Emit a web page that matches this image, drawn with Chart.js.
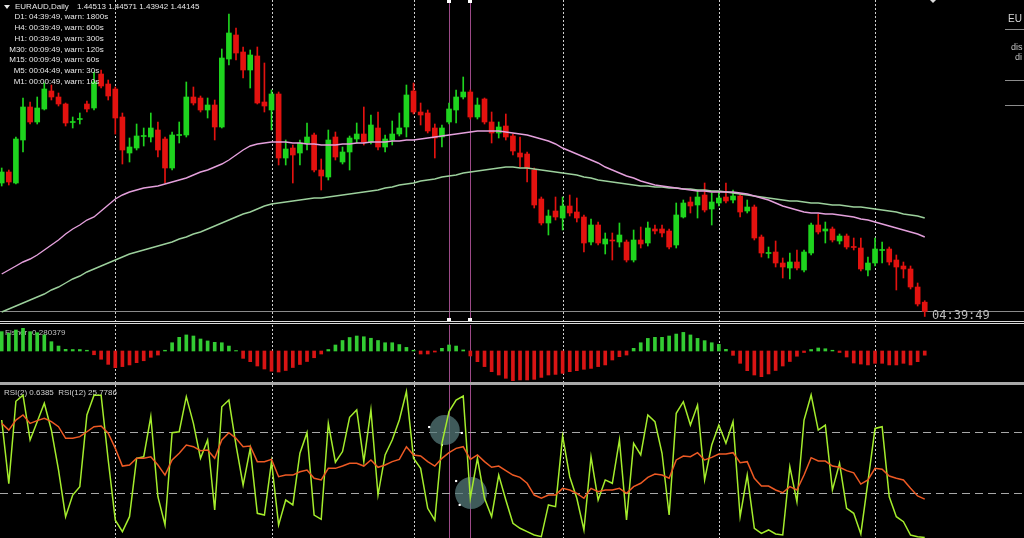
<!DOCTYPE html>
<html>
<head>
<meta charset="utf-8">
<script src="https://cdn.jsdelivr.net/npm/chart.js@4.4.1/dist/chart.umd.min.js"></script>
<style>
  body { margin: 0; background: #000; }
  #wrap { position: relative; width: 1024px; height: 538px; overflow: hidden; background: #000; }
  canvas { position: absolute; left: 0; }
  .sep { position: absolute; left: 0; width: 1024px; }
</style>
</head>
<body>
<div id="wrap">
  <canvas id="priceChart" width="1024" height="321" style="top:0"></canvas>
  <div class="sep" style="top:321px;height:1px;background:#d8d8d8"></div>
  <div class="sep" style="top:323px;height:1px;background:#d8d8d8"></div>
  <canvas id="fisherChart" width="1024" height="57" style="top:325px"></canvas>
  <div class="sep" style="top:382px;height:3px;background:#a8a8a8"></div>
  <canvas id="rsiChart" width="1024" height="153" style="top:385px"></canvas>
</div>
<script>
// EURAUD daily candles, oldest first
const opens = [1.4928,1.4972,1.4928,1.5100,1.5232,1.5172,1.5224,1.5296,1.5272,1.5244,
  1.5170,1.5182,1.5244,1.5228,1.5364,1.5324,1.5304,1.5192,1.5048,1.5068,
  1.5114,1.5112,1.5140,1.5104,1.4988,1.5118,1.5120,1.5272,1.5268,1.5220,
  1.5240,1.5152,1.5424,1.5520,1.5452,1.5380,1.5436,1.5252,1.5220,1.5284,
  1.5028,1.5068,1.5048,1.5088,1.5120,1.4980,1.4952,1.5112,1.5012,1.5052,
  1.5104,1.5124,1.5092,1.5148,1.5072,1.5100,1.5124,1.5152,1.5296,1.5212,
  1.5208,1.5148,1.5112,1.5172,1.5220,1.5272,1.5292,1.5192,1.5264,1.5172,
  1.5128,1.5156,1.5116,1.5048,1.5044,1.4980,1.4864,1.4768,1.4816,1.4788,
  1.4836,1.4812,1.4792,1.4692,1.4760,1.4684,1.4700,1.4692,1.4692,1.4620,
  1.4700,1.4688,1.4744,1.4744,1.4736,1.4680,1.4792,1.4852,1.4840,1.4880,
  1.4824,1.4848,1.4872,1.4860,1.4876,1.4816,1.4832,1.4712,1.4646,1.4652,
  1.4608,1.4588,1.4612,1.4580,1.4648,1.4760,1.4736,1.4744,1.4696,1.4716,
  1.4674,1.4668,1.4580,1.4608,1.4658,1.4664,1.4620,1.4596,1.4584,1.4512,1.44513];
const highs = [1.4988,1.4980,1.5112,1.5268,1.5252,1.5272,1.5328,1.5320,1.5288,1.5248,
  1.5192,1.5208,1.5256,1.5372,1.5380,1.5340,1.5312,1.5208,1.5108,1.5164,
  1.5148,1.5208,1.5172,1.5112,1.5132,1.5172,1.5332,1.5312,1.5276,1.5268,
  1.5260,1.5464,1.5604,1.5548,1.5472,1.5460,1.5472,1.5408,1.5300,1.5292,
  1.5100,1.5080,1.5100,1.5168,1.5128,1.5024,1.5140,1.5132,1.5072,1.5116,
  1.5168,1.5232,1.5200,1.5212,1.5120,1.5176,1.5208,1.5320,1.5328,1.5248,
  1.5220,1.5164,1.5160,1.5248,1.5300,1.5352,1.5300,1.5268,1.5268,1.5212,
  1.5172,1.5204,1.5124,1.5112,1.5052,1.4988,1.4872,1.4820,1.4872,1.4872,
  1.4880,1.4868,1.4800,1.4784,1.4772,1.4728,1.4728,1.4768,1.4700,1.4740,
  1.4752,1.4772,1.4760,1.4760,1.4744,1.4848,1.4860,1.4872,1.4900,1.4928,
  1.4888,1.4892,1.4928,1.4900,1.4884,1.4860,1.4840,1.4720,1.4672,1.4696,
  1.4628,1.4648,1.4660,1.4660,1.4768,1.4804,1.4772,1.4752,1.4724,1.4724,
  1.4708,1.4708,1.4632,1.4708,1.4692,1.4672,1.4640,1.4612,1.4596,1.4528,1.44571];
const lows = [1.4916,1.4920,1.4924,1.5052,1.5164,1.5164,1.5220,1.5260,1.5236,1.5156,
  1.5148,1.5164,1.5212,1.5220,1.5308,1.5260,1.5124,1.5004,1.5012,1.5060,
  1.5076,1.5092,1.5032,1.4928,1.4980,1.5088,1.5112,1.5240,1.5212,1.5188,
  1.5100,1.5148,1.5400,1.5420,1.5348,1.5308,1.5244,1.5212,1.5140,1.5000,
  1.5000,1.4928,1.5000,1.5060,1.4972,1.4900,1.4940,1.5020,1.5004,1.4980,
  1.5088,1.5080,1.5084,1.5060,1.5052,1.5080,1.5116,1.5112,1.5204,1.5160,
  1.5128,1.5028,1.5072,1.5164,1.5168,1.5264,1.5184,1.5184,1.5164,1.5088,
  1.5108,1.5100,1.5040,1.4992,1.4932,1.4828,1.4760,1.4720,1.4780,1.4740,
  1.4796,1.4772,1.4652,1.4680,1.4680,1.4644,1.4620,1.4672,1.4612,1.4612,
  1.4668,1.4676,1.4724,1.4712,1.4664,1.4668,1.4788,1.4808,1.4788,1.4812,
  1.4760,1.4836,1.4848,1.4848,1.4792,1.4808,1.4700,1.4632,1.4628,1.4592,
  1.4548,1.4544,1.4580,1.4572,1.4640,1.4724,1.4688,1.4692,1.4684,1.4664,
  1.4660,1.4576,1.4556,1.4596,1.4608,1.4600,1.4500,1.4548,1.4504,1.4436,1.43942];
const closes = [1.4972,1.4932,1.5104,1.5232,1.5172,1.5228,1.5304,1.5272,1.5244,1.5168,
  1.5174,1.5186,1.5224,1.5332,1.5316,1.5276,1.5188,1.5060,1.5072,1.5116,
  1.5118,1.5148,1.5060,1.4988,1.5120,1.5122,1.5272,1.5248,1.5220,1.5240,
  1.5152,1.5428,1.5528,1.5448,1.5380,1.5440,1.5248,1.5236,1.5284,1.5028,
  1.5064,1.5040,1.5088,1.5112,1.4980,1.4956,1.5100,1.5032,1.5052,1.5108,
  1.5124,1.5092,1.5160,1.5072,1.5104,1.5124,1.5148,1.5280,1.5212,1.5200,
  1.5136,1.5108,1.5148,1.5224,1.5272,1.5292,1.5192,1.5240,1.5172,1.5128,
  1.5152,1.5112,1.5056,1.5032,1.4988,1.4840,1.4768,1.4796,1.4792,1.4836,
  1.4808,1.4788,1.4688,1.4760,1.4688,1.4704,1.4696,1.4720,1.4620,1.4700,
  1.4684,1.4748,1.4736,1.4728,1.4672,1.4800,1.4848,1.4836,1.4872,1.4820,
  1.4852,1.4868,1.4856,1.4876,1.4812,1.4832,1.4708,1.4648,1.4650,1.4608,
  1.4592,1.4612,1.4588,1.4652,1.4760,1.4732,1.4744,1.4700,1.4716,1.4672,
  1.4670,1.4584,1.4608,1.4664,1.4662,1.4612,1.4592,1.4584,1.4512,1.4444,1.44145];

// moving averages
const maFast = [1.4564,1.4580,1.4596,1.4612,1.4624,1.4640,1.4660,1.4680,1.4700,1.4724,
  1.4744,1.4760,1.4780,1.4792,1.4816,1.4840,1.4864,1.4880,1.4892,1.4900,
  1.4908,1.4912,1.4916,1.4924,1.4932,1.4940,1.4948,1.4960,1.4972,1.4980,
  1.4992,1.5004,1.5020,1.5040,1.5060,1.5076,1.5084,1.5088,1.5092,1.5092,
  1.5092,1.5088,1.5088,1.5084,1.5084,1.5080,1.5080,1.5080,1.5084,1.5084,
  1.5088,1.5088,1.5092,1.5092,1.5092,1.5096,1.5096,1.5100,1.5100,1.5104,
  1.5108,1.5112,1.5116,1.5120,1.5124,1.5128,1.5132,1.5136,1.5136,1.5136,
  1.5136,1.5132,1.5128,1.5124,1.5120,1.5112,1.5104,1.5096,1.5084,1.5068,
  1.5056,1.5044,1.5032,1.5020,1.5008,1.4992,1.4980,1.4968,1.4956,1.4948,
  1.4936,1.4928,1.4920,1.4916,1.4912,1.4908,1.4904,1.4900,1.4896,1.4896,
  1.4892,1.4892,1.4892,1.4892,1.4888,1.4884,1.4876,1.4868,1.4860,1.4848,
  1.4836,1.4828,1.4820,1.4812,1.4808,1.4808,1.4804,1.4804,1.4800,1.4796,
  1.4792,1.4784,1.4780,1.4772,1.4764,1.4756,1.4748,1.4740,1.4732,1.4724,1.4712];
const maSlow = [1.4412,1.4424,1.4436,1.4448,1.4460,1.4472,1.4484,1.4500,1.4512,1.4528,
  1.4544,1.4556,1.4572,1.4584,1.4596,1.4608,1.4620,1.4632,1.4644,1.4652,
  1.4660,1.4668,1.4676,1.4684,1.4692,1.4704,1.4712,1.4724,1.4732,1.4744,
  1.4756,1.4768,1.4780,1.4792,1.4804,1.4812,1.4824,1.4836,1.4844,1.4848,
  1.4852,1.4856,1.4860,1.4864,1.4868,1.4868,1.4872,1.4876,1.4880,1.4884,
  1.4888,1.4892,1.4896,1.4900,1.4908,1.4912,1.4920,1.4924,1.4928,1.4936,
  1.4940,1.4944,1.4952,1.4956,1.4960,1.4968,1.4972,1.4976,1.4980,1.4984,
  1.4988,1.4992,1.4992,1.4988,1.4988,1.4984,1.4980,1.4976,1.4972,1.4968,
  1.4964,1.4960,1.4952,1.4948,1.4940,1.4936,1.4932,1.4928,1.4924,1.4920,
  1.4916,1.4916,1.4912,1.4912,1.4908,1.4908,1.4904,1.4904,1.4900,1.4900,
  1.4896,1.4896,1.4892,1.4888,1.4884,1.4880,1.4876,1.4872,1.4868,1.4864,
  1.4860,1.4856,1.4856,1.4852,1.4848,1.4848,1.4844,1.4840,1.4840,1.4836,
  1.4832,1.4832,1.4828,1.4824,1.4820,1.4816,1.4812,1.4804,1.4800,1.4796,1.4788];

// Fisher transform histogram
const fisher = [1.29,1.18,1.4,1.51,1.29,1.22,1.07,0.62,0.33,0.11,0.1,0.1,0.05,
  -0.25,-0.55,-0.89,-1.11,-1.04,-0.93,-0.78,-0.65,-0.42,-0.27,
  0.05,0.55,0.91,1.07,1.0,0.8,0.67,0.58,0.55,0.33,0.03,
  -0.49,-0.71,-1.0,-1.2,-1.35,-1.4,-1.3,-1.1,-0.9,-0.7,-0.45,-0.2,
  0.1,0.4,0.7,0.9,1.0,0.95,0.85,0.7,0.55,0.55,0.43,0.24,0.05,
  -0.2,-0.2,-0.07,0.18,0.4,0.33,0.07,
  -0.33,-0.71,-1.04,-1.38,-1.6,-1.82,-1.98,-1.93,-1.93,-1.89,-1.76,-1.6,-1.56,-1.49,
  -1.38,-1.31,-1.22,-1.16,-1.04,-0.93,-0.6,-0.38,-0.27,
  0.18,0.55,0.84,0.91,0.91,1.0,1.13,1.24,1.07,0.84,0.69,0.55,0.44,0.11,
  -0.29,-0.82,-1.31,-1.6,-1.71,-1.53,-1.3,-1.0,-0.7,-0.35,-0.1,
  0.1,0.2,0.15,0.05,-0.1,-0.4,
  -0.8,-0.87,-0.93,-0.82,-0.82,-0.93,-0.93,-0.82,-0.93,-0.71,-0.28];

// RSI(2) and RSI(12)
const rsi2 = [77.7,36,90,94,64.6,76.6,88.7,71,45,14.3,
  28.5,34,81,94,94,51.5,12,4.5,14.3,52.6,
  53.6,80,27.4,8.9,69.4,70,93,75.5,52.6,64.6,
  18.7,86.4,90.8,61.3,35,59,16.5,15.4,50.4,8.9,
  25.2,22,55.9,69.4,15.4,12.6,75.5,50,57,79.5,
  84.3,50.4,84.3,28.5,54.8,64.6,77.7,96.3,52.6,46,
  19.8,12.1,62.4,83.2,90.8,93.4,26.4,52.6,26.4,14.3,
  41.6,25.2,10,6.7,4.5,2.3,1.2,22,20.9,67.2,
  40.5,26.4,5.6,53.6,25.2,38.4,36.2,64.6,12.1,62.4,
  54.8,81,76.6,55.9,15.4,82.1,89.7,74.4,87.5,38.4,
  61.3,74.4,62.4,76.6,14.3,41.6,6.7,3.4,5.6,3,
  2.3,47.1,24.1,77.7,94.1,71.1,74.4,31.8,49.3,19.8,
  16.5,3,37.3,72.2,73.3,27.4,14.3,11,2.3,1.2,0.64];
const rsi12 = [75.5,71.1,77.7,81,75.5,77.3,78.8,76.6,73.3,65.7,
  65.7,66.8,70,73.3,73.8,69,59.1,47.5,48.2,52.6,
  52.6,53.6,48.2,41.6,51.5,55.9,61.3,60.2,57.6,58,
  52.6,64.6,69.4,65.7,60.2,60.7,50.4,50.4,51.9,40.5,
  41.6,41.6,43.8,44.9,39.5,38.4,46,46,47.5,49.3,
  49.3,47.5,51.5,46.7,48.2,50.4,51.9,60.2,54.8,54.1,
  50.4,47.5,52.6,56.3,59.1,60.2,51.9,54.8,50.4,46.7,
  47.5,44.5,41.6,40.1,36.2,28.5,26.4,28.5,28.5,32.9,
  31.8,29.6,26.4,32.9,30.7,31.8,31.8,32.9,29.6,34,
  36.2,40.1,42.3,41.6,39.5,51.5,54.1,53.6,56.3,51.5,
  53.2,55.4,55.4,56.3,49.7,50.4,39.5,34.4,34.4,31.8,
  30,34,31.8,41.6,53,50.8,50.8,47.5,46.7,44.5,
  43.1,35.7,38.4,46,45.4,41,39.5,38.4,32.9,27.9,25.78];
const rsiLevels = [70, 30];

// bars carrying the period separators and the two marked bars
const gridBars = [16, 38, 58, 79, 101, 123];
const markedBars = [63, 66];

// selected ellipse objects on the RSI window
const rsiObjects = [{x: 62.4, y: 71.1, r: 15}, {x: 66.1, y: 29.8, r: 16}];
const rsiHandles = [{x: 60.2, y: 73.1}, {x: 64.8, y: 69.2}, {x: 62.0, y: 61.3}, {x: 64.0, y: 37.7}, {x: 64.5, y: 22.0}];

const infoLines = [
  ['D1:', '04:39:49, warn: 1800s'],
  ['H4:', '00:39:49, warn: 600s'],
  ['H1:', '00:39:49, warn: 300s'],
  ['M30:', '00:09:49, warn: 120s'],
  ['M15:', '00:09:49, warn: 60s'],
  ['M5:', '00:04:49, warn: 30s'],
  ['M1:', '00:00:49, warn: 10s']
];

const BULL = '#1ed41e', BEAR = '#e3120f';
const idx = opens.map((_, i) => i);
const candleColors = idx.map(i => closes[i] >= opens[i] ? BULL : BEAR);
const xRange = { type: 'linear', min: -0.24, max: 143.98, offset: false, display: false };
const baseOpts = {
  responsive: false, animation: false, devicePixelRatio: 1, events: [],
  layout: { padding: 0, autoPadding: false },
  plugins: { legend: { display: false }, tooltip: { enabled: false } }
};

function vLines(chart, bars, color, dash) {
  const { ctx, chartArea, scales: { x } } = chart;
  ctx.save();
  ctx.strokeStyle = color;
  ctx.lineWidth = 1;
  ctx.setLineDash(dash);
  bars.forEach(b => {
    const px = Math.round(x.getPixelForValue(b)) + 0.5;
    ctx.beginPath();
    ctx.moveTo(px, chartArea.top);
    ctx.lineTo(px, chartArea.bottom);
    ctx.stroke();
  });
  ctx.restore();
}

const panelBackdrop = {
  id: 'panelBackdrop',
  beforeDatasetsDraw(chart) {
    vLines(chart, gridBars, '#d0d0d0', [2, 2]);
    vLines(chart, markedBars, '#9c4a88', []);
  }
};

// price window
new Chart(document.getElementById('priceChart'), {
  type: 'bar',
  data: {
    datasets: [
      { type: 'line', data: idx.map(i => ({ x: i, y: maFast[i] })), borderColor: '#e4a0dc',
        borderWidth: 1.4, pointRadius: 0, order: 0 },
      { type: 'line', data: idx.map(i => ({ x: i, y: maSlow[i] })), borderColor: '#9cd09c',
        borderWidth: 1.4, pointRadius: 0, order: 0 },
      { data: idx.map(i => ({ x: i, y: [opens[i], closes[i]] })), backgroundColor: candleColors,
        barThickness: 5, grouped: false, minBarLength: 1, order: 1 },
      { data: idx.map(i => ({ x: i, y: [lows[i], highs[i]] })), backgroundColor: candleColors,
        barThickness: 1, grouped: false, order: 2 }
    ]
  },
  options: {
    ...baseOpts,
    scales: { x: xRange, y: { type: 'linear', min: 1.4376, max: 1.566, display: false } }
  },
  plugins: [panelBackdrop, {
    id: 'priceDecor',
    beforeDatasetsDraw(chart) {
      const { ctx, scales: { y } } = chart;
      const py = Math.round(y.getPixelForValue(closes[closes.length - 1])) + 0.5;
      ctx.save();
      ctx.strokeStyle = '#8a8a8a';
      ctx.beginPath(); ctx.moveTo(0, py); ctx.lineTo(1024, py); ctx.stroke();
      ctx.restore();
    },
    afterDatasetsDraw(chart) {
      const { ctx, chartArea, scales: { x } } = chart;
      ctx.save();
      ctx.fillStyle = '#ffffff';
      markedBars.forEach(b => {
        const px = Math.round(x.getPixelForValue(b));
        ctx.fillRect(px - 2, chartArea.top, 4, 3);
        ctx.fillRect(px - 2, chartArea.bottom - 3, 4, 3);
      });
      ctx.fillStyle = '#e8e8e8';
      ctx.font = '8px "Liberation Sans"';
      ctx.textBaseline = 'middle';
      ctx.beginPath(); ctx.moveTo(4, 5); ctx.lineTo(10, 5); ctx.lineTo(7, 9); ctx.closePath(); ctx.fill();
      ctx.fillText('EURAUD,Daily', 15, 7);
      ctx.fillText('1.44513 1.44571 1.43942 1.44145', 77, 7);
      infoLines.forEach((l, k) => {
        ctx.textAlign = 'right';
        ctx.fillText(l[0], 27, 17 + 10.8 * k);
        ctx.textAlign = 'left';
        ctx.fillText(l[1], 29, 17 + 10.8 * k);
      });
      ctx.fillStyle = '#bdbdbd';
      ctx.font = '12px "DejaVu Sans Mono"';
      ctx.fillText('04:39:49', 932, 316);
      // side panel of another window
      ctx.fillStyle = '#d8d8d8';
      ctx.font = '10px "Liberation Sans"';
      ctx.fillText('EU', 1008, 19);
      ctx.fillStyle = '#c4c4c4';
      ctx.font = '9px "Liberation Sans"';
      ctx.fillText('dis', 1011, 48);
      ctx.fillText('di', 1015, 58);
      ctx.strokeStyle = '#8c8c8c';
      [29.5, 80.5, 105.5].forEach(ly => {
        ctx.beginPath(); ctx.moveTo(1005, ly); ctx.lineTo(1024, ly); ctx.stroke();
      });
      ctx.fillStyle = '#dddddd';
      ctx.beginPath(); ctx.moveTo(930, 0); ctx.lineTo(936, 0); ctx.lineTo(933, 3); ctx.closePath(); ctx.fill();
      ctx.restore();
    }
  }]
});

// Fisher window
new Chart(document.getElementById('fisherChart'), {
  type: 'bar',
  data: {
    datasets: [{
      data: idx.map(i => ({ x: i, y: fisher[i] })),
      backgroundColor: fisher.map(v => v >= 0 ? '#33cc33' : '#d91414'),
      barThickness: 3, grouped: false
    }]
  },
  options: {
    ...baseOpts,
    scales: { x: xRange, y: { type: 'linear', min: -2.0667, max: 1.7333, display: false } }
  },
  plugins: [panelBackdrop, {
    id: 'fisherLabel',
    beforeDatasetsDraw(chart) {
      const { ctx } = chart;
      ctx.save();
      ctx.fillStyle = '#bfbfbf';
      ctx.font = '8px "Liberation Sans"';
      ctx.textBaseline = 'middle';
      ctx.fillText('Fisher -0.280379', 5, 8);
      ctx.restore();
    }
  }]
});

// RSI window
new Chart(document.getElementById('rsiChart'), {
  type: 'line',
  data: {
    datasets: [
      { data: idx.map(i => ({ x: i, y: rsi2[i] })), borderColor: '#a4ec2c', borderWidth: 1.5,
        pointRadius: 0, order: 1 },
      { data: idx.map(i => ({ x: i, y: rsi12[i] })), borderColor: '#ee5a24', borderWidth: 1.5,
        pointRadius: 0, order: 0 },
      { type: 'bubble', data: rsiObjects, backgroundColor: 'rgba(88,125,125,0.72)', borderWidth: 0, order: 3 },
      { type: 'scatter', data: rsiHandles, pointStyle: 'rect', pointRadius: 1.5,
        backgroundColor: '#ffffff', borderWidth: 0, order: 2 }
    ]
  },
  options: {
    ...baseOpts,
    scales: { x: xRange, y: { type: 'linear', min: 0.33, max: 100.66, display: false } }
  },
  plugins: [panelBackdrop, {
    id: 'rsiDecor',
    beforeDatasetsDraw(chart) {
      const { ctx, scales: { y } } = chart;
      ctx.save();
      ctx.strokeStyle = '#a8a8a8';
      ctx.setLineDash([8, 5]);
      rsiLevels.forEach(l => {
        const py = Math.round(y.getPixelForValue(l)) + 0.5;
        ctx.beginPath(); ctx.moveTo(0, py); ctx.lineTo(1024, py); ctx.stroke();
      });
      ctx.setLineDash([]);
      ctx.fillStyle = '#d0d0d0';
      ctx.font = '8px "Liberation Sans"';
      ctx.textBaseline = 'middle';
      ctx.fillText('RSI(2) 0.6385  RSI(12) 25.7786', 4, 8);
      ctx.restore();
    }
  }]
});
</script>
</body>
</html>
